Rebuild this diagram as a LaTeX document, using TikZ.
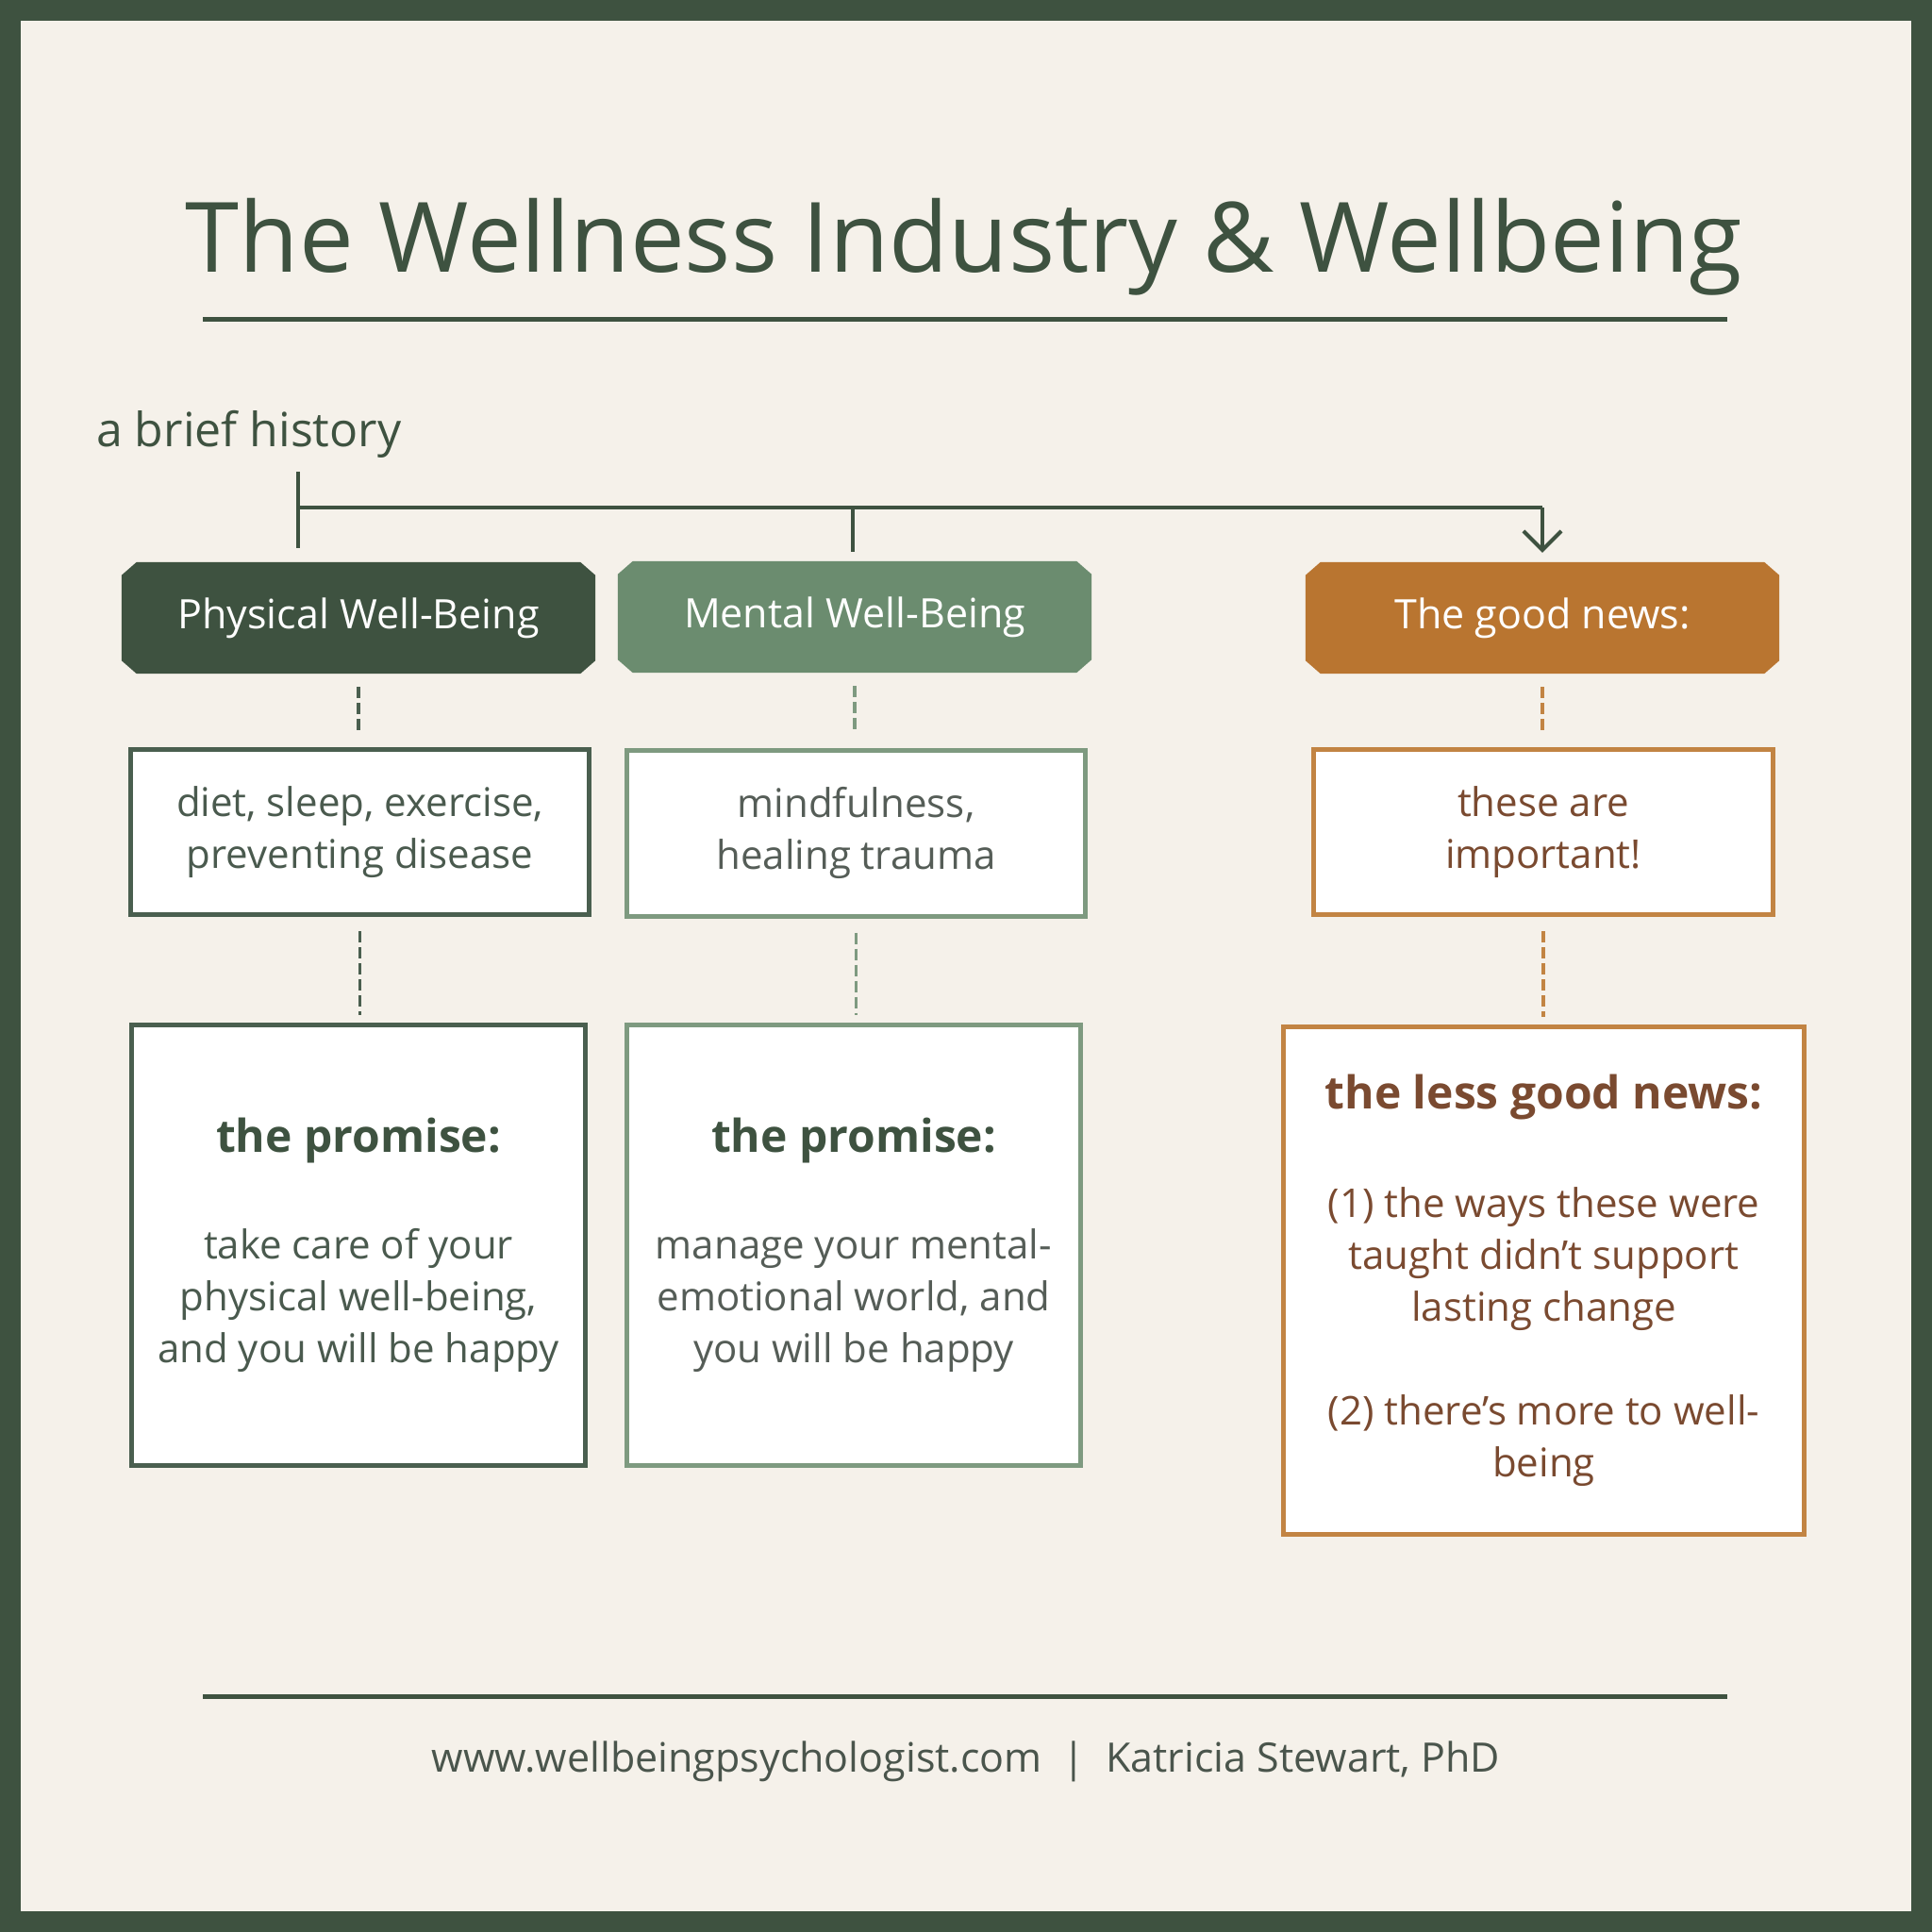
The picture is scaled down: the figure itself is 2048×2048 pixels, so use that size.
\documentclass[tikz,border=0pt]{standalone}
\usepackage{fontspec}
\setmainfont{Open Sans}
\usetikzlibrary{arrows.meta,backgrounds}
\definecolor{dkgreen}{HTML}{3E5240}
\definecolor{midgreen}{HTML}{6B8C6F}
\definecolor{orng}{HTML}{B97530}
\definecolor{cream}{HTML}{F5F1EA}
\definecolor{ptext}{HTML}{4A5A4E}
\definecolor{mtext}{HTML}{555D57}
\definecolor{brwn}{HTML}{7A4A30}
\definecolor{pbord}{HTML}{4A5F4F}
\definecolor{mbord}{HTML}{7E9A80}
\definecolor{obord}{HTML}{C28443}
\definecolor{foottext}{HTML}{4A554C}
\newcommand{\hdfont}{\fontsize{48}{55}\selectfont\bfseries}
\tikzset{
  hdr/.style={inner sep=0pt, text=white, font=\fontsize{43}{50}\selectfont, minimum width=502pt, minimum height=118pt},
  cbox/.style={draw, line width=5pt, fill=white, inner sep=0pt, align=center, font=\fontsize{42}{55}\selectfont},
  dsh/.style={line width=3.5pt, dash pattern=on 12pt off 5pt},
  rulel/.style={dkgreen, line width=5pt},
  tline/.style={dkgreen, line width=4pt},
}
\newcommand{\chamf}[2]{\fill[#2] ([xshift=16pt]#1.north west) -- ([xshift=-16pt]#1.north east) -- ([yshift=-14pt]#1.north east) -- ([yshift=14pt]#1.south east) -- ([xshift=-16pt]#1.south east) -- ([xshift=16pt]#1.south west) -- ([yshift=14pt]#1.south west) -- ([yshift=-14pt]#1.north west) -- cycle;}
\begin{document}
\begin{tikzpicture}[x=1pt,y=-1pt]
\useasboundingbox (0,0) rectangle (2048,2048);
\begin{scope}[on background layer]
\fill[dkgreen] (0,0) rectangle (2048,2048);
\fill[cream] (22,22) rectangle (2026,2026);
\end{scope}

% title
\node[anchor=base, text=dkgreen, font=\fontsize{103}{110}\selectfont] (title) at (1022,288) {The Wellness Industry \& Wellbeing};
\draw[rulel] (215,338) -- (1831,338);

\node[anchor=base west, text=dkgreen, font=\fontsize{50}{55}\selectfont, inner sep=0pt] (hist) at (102,473) {a brief history};

% headers
\node[hdr] (ph) at (380,655) {Physical Well-Being};
\node[hdr] (mh) at (906,654) {Mental Well-Being};
\node[hdr] (gh) at (1635,655) {The good news:};
\begin{scope}[on background layer]
\chamf{ph}{dkgreen}
\chamf{mh}{midgreen}
\chamf{gh}{orng}
\end{scope}

% timeline
\coordinate (tl0) at (316,500);
\coordinate (tlc) at (316,538);
\coordinate (tl1) at (316,581);
\coordinate (tm) at (904,538);
\coordinate (tr) at (1635,538);
\draw[tline] (tl0) -- (tl1);
\draw[tline] (tlc) -- (tr);
\draw[tline, shorten >=10pt] (tm) -- (tm |- mh.north);
\draw[tline, -{Straight Barb[length=20pt,width=40pt]}, shorten >=10pt] (tr) -- (gh.north);

% middle boxes
\node[cbox, draw=pbord, text=ptext, minimum width=486pt, minimum height=175pt] (pm) at (381.5,882) {diet, sleep, exercise,\\preventing disease};
\node[cbox, draw=mbord, text=mtext, minimum width=486pt, minimum height=176pt] (mm) at (907.5,883) {mindfulness,\\healing trauma};
\node[cbox, draw=obord, text=brwn, minimum width=487pt, minimum height=175pt] (gm) at (1636,882) {these are\\important!};

% bottom boxes
\node[cbox, draw=pbord, text=ptext, minimum width=481pt, minimum height=467pt] (pb) at (380,1320) {{\hdfont\color{dkgreen}the promise:}\\[58pt]take care of your\\physical well-being,\\and you will be happy};
\node[cbox, draw=mbord, text=mtext, minimum width=481pt, minimum height=467pt] (mb) at (905,1320) {{\hdfont\color{dkgreen}the promise:}\\[58pt]manage your mental-\\emotional world, and\\you will be happy};
\node[cbox, draw=obord, text=brwn, minimum width=552pt, minimum height=538pt] (gb) at (1636.5,1357) {{\hdfont the less good news:}\\[60pt](1) the ways these were\\taught didn’t support\\lasting change\\[55pt](2) there’s more to well-\\being};

% dashed connectors
\draw[dsh, pbord, shorten <=14pt, shorten >=16pt] (ph.south) -- (ph.south |- pm.north);
\draw[dsh, mbord, shorten <=14pt, shorten >=16pt] (mh.south) -- (mh.south |- mm.north);
\draw[dsh, obord, shorten <=14pt, shorten >=16pt] (gh.south) -- (gh.south |- gm.north);
\draw[dsh, pbord, shorten <=15pt, shorten >=8pt] (pm.south) -- (pm.south |- pb.north);
\draw[dsh, mbord, shorten <=15pt, shorten >=8pt] (mm.south) -- (mm.south |- mb.north);
\draw[dsh, obord, shorten <=15pt, shorten >=8pt] (gm.south) -- (gm.south |- gb.north);

% footer
\draw[rulel] (215,1798) -- (1831,1798);
\node[anchor=base, text=foottext, font=\fontsize{43}{48}\selectfont] (foot) at (1024,1878) {www.wellbeingpsychologist.com\hspace{22pt}|\hspace{22pt}Katricia Stewart, PhD};
\end{tikzpicture}
\end{document}
